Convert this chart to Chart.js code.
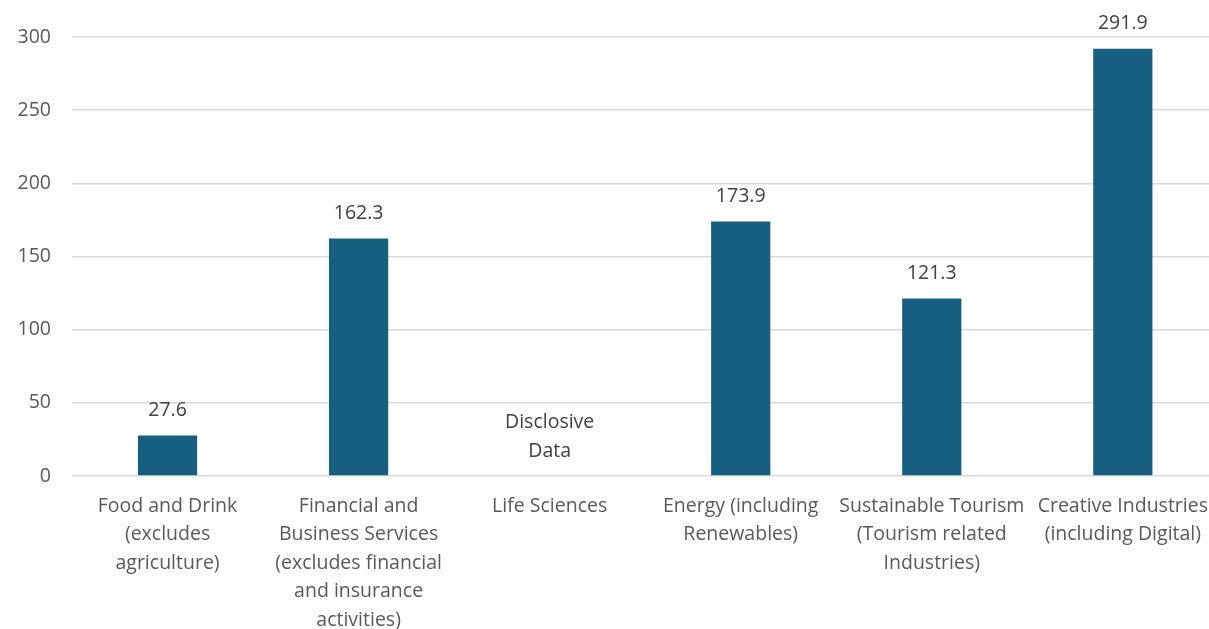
<!DOCTYPE html>
<html lang="en">
  <head>
    <meta charset="UTF-8" />
    <title>Sector values</title>
    <script src="https://cdn.jsdelivr.net/npm/chart.js"></script>
    <style>
      html, body { margin: 0; padding: 0; background: #fff; overflow: hidden; }
      .wrap { position: relative; width: 1224px; height: 629px; }
    </style>
  </head>
  <body>
    <div class="wrap">
      <canvas id="sectorChart"></canvas>
    </div>

    <script>
      // Sectors (x axis), split onto lines as shown under each bar
      const sectors = [
        ["Food and Drink", "(excludes", "agriculture)"],
        ["Financial and", "Business Services", "(excludes financial", "and insurance", "activities)"],
        ["Life Sciences"],
        ["Energy (including", "Renewables)"],
        ["Sustainable Tourism", "(Tourism related", "Industries)"],
        ["Creative Industries", "(including Digital)"],
      ];
      // Values; null where the figure is withheld
      const values = [27.6, 162.3, null, 173.9, 121.3, 291.9];
      // Text shown instead of a value when it is withheld
      const withheldNote = ["Disclosive", "Data"];
      const yTicks = [0, 50, 100, 150, 200, 250, 300];

      const FONT = "'Open Sans', 'Liberation Sans', sans-serif";
      const TEXT = "#404040";

      // Value labels above each bar
      const barLabels = {
        id: "barLabels",
        afterDatasetsDraw(chart) {
          const ctx = chart.ctx;
          const meta = chart.getDatasetMeta(0);
          const yZero = chart.scales.y.getPixelForValue(0);
          ctx.save();
          ctx.font = "19.5px " + FONT;
          ctx.fillStyle = TEXT;
          ctx.textAlign = "center";
          ctx.textBaseline = "middle";
          meta.data.forEach((bar, i) => {
            const v = values[i];
            if (v === null) {
              const lines = withheldNote;
              lines.forEach((t, k) => {
                ctx.fillText(t, bar.x, yZero - 25 - (lines.length - 1 - k) * 29);
              });
            } else {
              ctx.fillText(v.toFixed(1), bar.x, bar.y - 25);
            }
          });
          ctx.restore();
        },
      };

      new Chart(document.getElementById("sectorChart"), {
        type: "bar",
        data: {
          labels: sectors,
          datasets: [
            {
              data: values,
              backgroundColor: "#175f80",
              barPercentage: 0.31,
              categoryPercentage: 1,
            },
          ],
        },
        options: {
          responsive: true,
          maintainAspectRatio: false,
          animation: false,
          layout: { padding: { top: 37, right: 0, left: 0, bottom: 0 } },
          plugins: {
            legend: { display: false },
            tooltip: { enabled: false },
          },
          scales: {
            x: {
              grid: { display: false, drawTicks: false },
              border: { display: false },
              ticks: {
                color: "#595959",
                font: { family: FONT, size: 19.5, lineHeight: 1.46 },
                padding: 16,
                maxRotation: 0,
                autoSkip: false,
              },
              afterFit(scale) { scale.height = 153; },
            },
            y: {
              min: 0,
              max: 300,
              afterBuildTicks(scale) {
                scale.ticks = yTicks.map((v) => ({ value: v }));
              },
              grid: { color: "#d9d9d9", lineWidth: 1.5, drawTicks: false },
              border: { display: false },
              ticks: {
                color: "#595959",
                font: { family: FONT, size: 19.5 },
                padding: 21,
              },
              afterFit(scale) { scale.width = 72; },
            },
          },
        },
        plugins: [barLabels],
      });
    </script>
  </body>
</html>
